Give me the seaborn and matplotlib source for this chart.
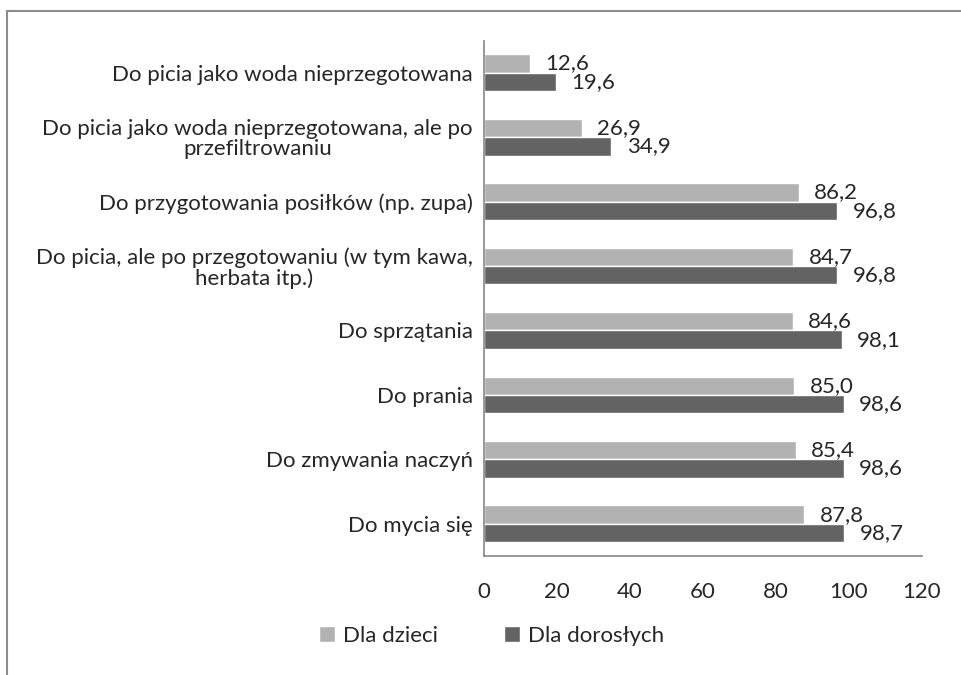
import numpy as np
import pandas as pd
import matplotlib
matplotlib.use("Agg")
import matplotlib.pyplot as plt
from matplotlib.lines import Line2D
import seaborn as sns

categories = [
    "Do picia jako woda nieprzegotowana",
    "Do picia jako woda nieprzegotowana, ale po\nprzefiltrowaniu",
    "Do przygotowania posiłków (np. zupa)",
    "Do picia, ale po przegotowaniu (w tym kawa,\nherbata itp.)",
    "Do sprzątania",
    "Do prania",
    "Do zmywania naczyń",
    "Do mycia się",
]
series_names = ["Dla dzieci", "Dla dorosłych"]
dzieci = [12.6, 26.9, 86.2, 84.7, 84.6, 85.0, 85.4, 87.8]
dorosli = [19.6, 34.9, 96.8, 96.8, 98.1, 98.6, 98.6, 98.7]
x_ticks = [0, 20, 40, 60, 80, 100, 120]

df = pd.DataFrame({
    "kategoria": categories * 2,
    "seria": [series_names[0]] * len(categories) + [series_names[1]] * len(categories),
    "wartosc": dzieci + dorosli,
})

sns.set_style("white")
plt.rcParams["font.family"] = ["Lato", "DejaVu Sans"]
axis_grey = "#868686"
fs = 16

fig = plt.figure(figsize=(9.62, 6.75), dpi=100)
ax = fig.add_axes([484 / 962, 1 - 556 / 675, (922 - 484) / 962, (556 - 40.5) / 675])

sns.barplot(data=df, y="kategoria", x="wartosc", hue="seria", orient="h",
            palette=["#b2b2b2", "#636363"], width=0.57, ax=ax, legend=True)

ax.set_xlim(0, 120)
ax.set_ylim(len(categories) - 0.5, -0.5)
ax.set_xticks(x_ticks)
ax.set_xticklabels([str(t) for t in x_ticks], fontsize=fs)
ax.set_yticks(range(len(categories)))
ax.set_yticklabels(categories, fontsize=fs, multialignment="center", linespacing=1.0)
ax.set_yticks(np.arange(-0.5, len(categories)), minor=True)
ax.tick_params(axis="y", which="major", length=0, pad=8)
ax.tick_params(axis="y", which="minor", length=5, width=1.2, color=axis_grey, direction="out")
ax.tick_params(axis="x", length=6, width=1.2, color=axis_grey, direction="out", pad=13)
ax.set_xlabel("")
ax.set_ylabel("")

for side in ["top", "right"]:
    ax.spines[side].set_visible(False)
for side in ["left", "bottom"]:
    ax.spines[side].set_color(axis_grey)
    ax.spines[side].set_linewidth(1.2)

for cont, vals in zip(ax.containers, [dzieci, dorosli]):
    ax.bar_label(cont, labels=[f"{v:.1f}".replace(".", ",") for v in vals],
                 padding=11, fontsize=fs)

handles, labels = ax.get_legend_handles_labels()
ax.legend(handles, labels, loc="center", bbox_to_anchor=(491.5 / 962, 1 - 636 / 675),
          bbox_transform=fig.transFigure, ncol=2, frameon=False, fontsize=fs,
          handlelength=0.7, handleheight=0.7, handletextpad=0.35, columnspacing=3.0)

# outer chart frame (only top and left edges are visible in the crop)
fig.add_artist(Line2D([7 / 962, 1.0], [1 - 10.5 / 675] * 2, transform=fig.transFigure,
                      color="#8c8c8c", lw=1.5))
fig.add_artist(Line2D([7 / 962] * 2, [0.0, 1 - 10.5 / 675], transform=fig.transFigure,
                      color="#8c8c8c", lw=1.5))

fig.savefig("out.png", dpi=100)
